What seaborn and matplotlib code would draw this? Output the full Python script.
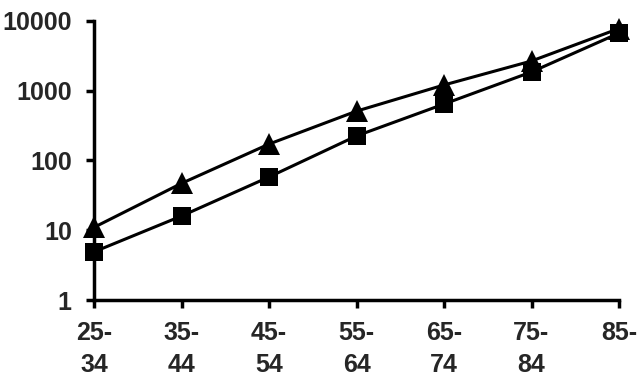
import matplotlib
matplotlib.use("Agg")
import matplotlib.pyplot as plt
import seaborn as sns
import pandas as pd

categories = ["25-\n34", "35-\n44", "45-\n54", "55-\n64", "65-\n74", "75-\n84", "85-"]
triangle_values = [11, 47, 172, 510, 1210, 2670, 7800]
square_values = [4.9, 16, 58, 225, 645, 1860, 6700]
y_ticks = [1, 10, 100, 1000, 10000]
y_tick_labels = ["1", "10", "100", "1000", "10000"]

df = pd.DataFrame({
    "age": categories * 2,
    "value": triangle_values + square_values,
    "series": ["triangle"] * len(categories) + ["square"] * len(categories),
})

sns.set_style("white")
plt.rcParams["font.family"] = ["Liberation Sans", "DejaVu Sans"]

fig = plt.figure(figsize=(6.41, 3.79), dpi=100)
ax = fig.add_axes([94 / 641, 1 - 300 / 379, (619 - 94) / 641, (300 - 21) / 379])

sns.lineplot(data=df, x="age", y="value", style="series",
             markers={"triangle": "^", "square": "s"},
             dashes={"triangle": "", "square": ""},
             color="black", linewidth=2.2, ax=ax, legend=False,
             sort=False, clip_on=False)
for ln in ax.lines:
    if ln.get_marker() == "^":
        ln.set_markersize(16)
    else:
        ln.set_markersize(13.5)
    ln.set_markeredgewidth(0)

ax.set_yscale("log")
ax.set_ylim(1, 10000)
ax.set_xlim(0, len(categories) - 1)
ax.set_yticks(y_ticks)
ax.set_yticklabels(y_tick_labels)
ax.minorticks_off()
ax.set_xlabel("")
ax.set_ylabel("")

for s in ["top", "right"]:
    ax.spines[s].set_visible(False)
for s in ["left", "bottom"]:
    ax.spines[s].set_linewidth(2.5)
    ax.spines[s].set_color("black")

ax.tick_params(axis="both", which="major", direction="out", length=6,
               width=2.5, color="black", labelsize=18, left=True, bottom=True)
ax.tick_params(axis="y", pad=10)
ax.tick_params(axis="x", pad=9)
for lab in ax.get_xticklabels() + ax.get_yticklabels():
    lab.set_fontweight("bold")
for lab in ax.get_xticklabels():
    lab.set_linespacing(1.42)
    lab.set_verticalalignment("top")

fig.savefig("out.png", dpi=100, facecolor="white")
